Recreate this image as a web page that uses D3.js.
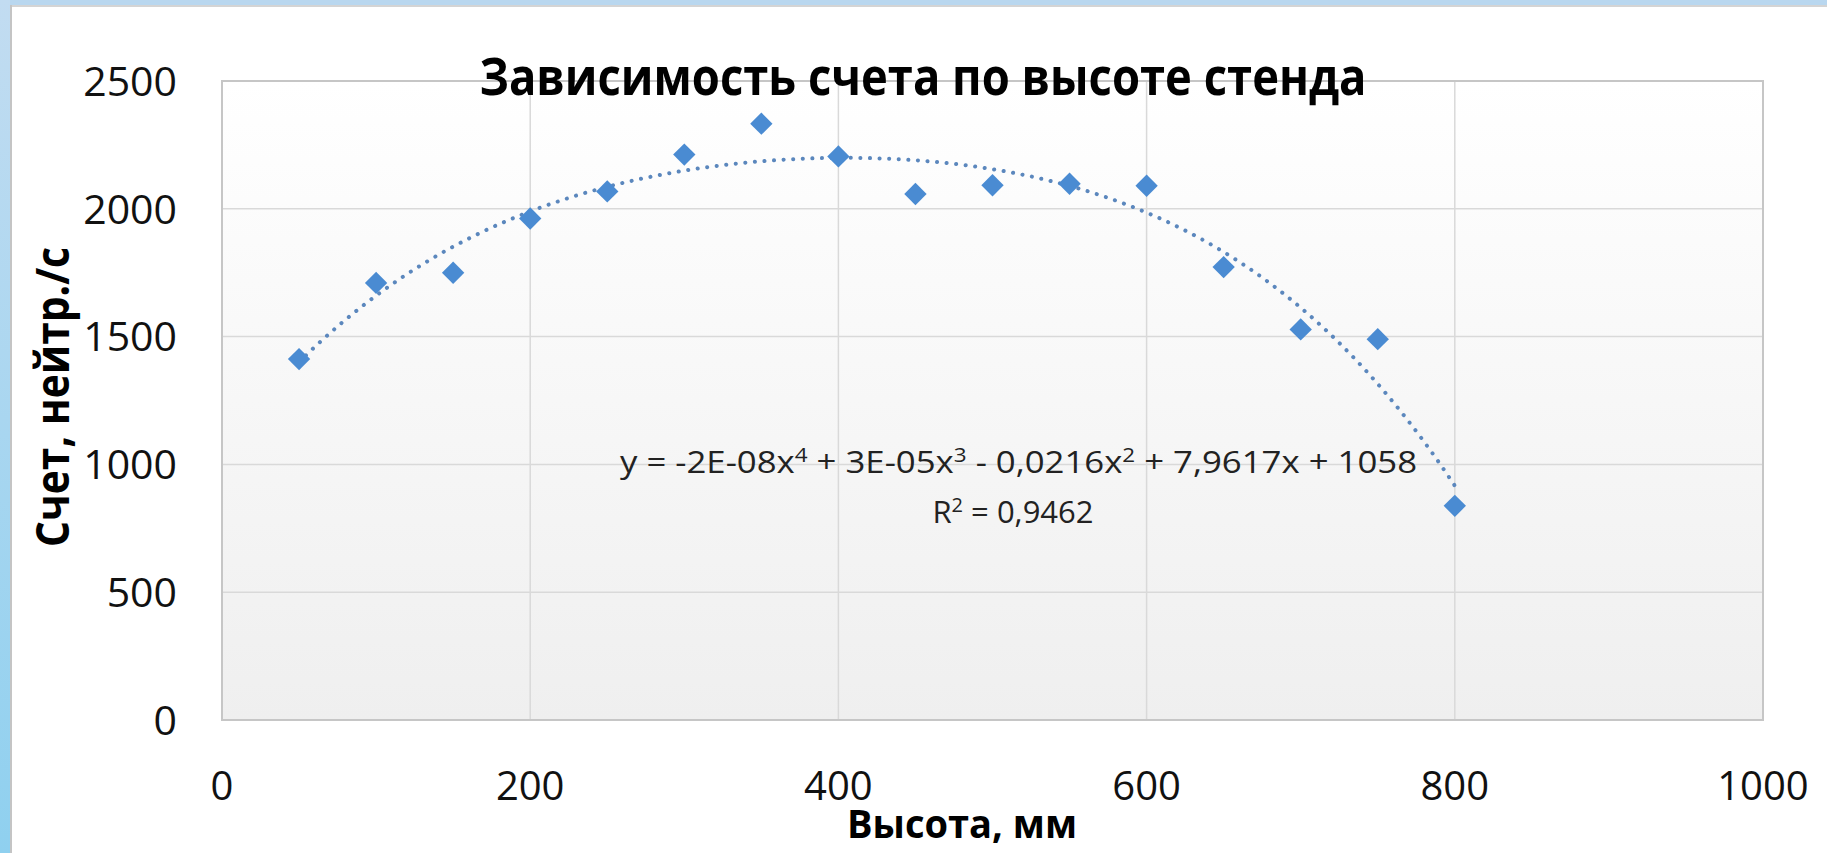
<!DOCTYPE html>
<html>
<head>
<meta charset="utf-8">
<script src="https://cdn.jsdelivr.net/npm/d3@7"></script>
<style>
  html, body { margin: 0; padding: 0; background: #fff; }
  svg { display: block; font-family: "Open Sans", "Noto Sans", sans-serif; }
</style>
</head>
<body>
<div id="chart"></div>
<script>
// ======= DATA =======
const heights = [50, 100, 150, 200, 250, 300, 350, 400, 450, 500, 550, 600, 650, 700, 750, 800];
const counts = [1412, 1710, 1750, 1962, 2068, 2212, 2333, 2205, 2058, 2092, 2098, 2090, 1772, 1528, 1490, 838];

const xTicks = [0, 200, 400, 600, 800, 1000];
const yTicks = [0, 500, 1000, 1500, 2000, 2500];

const titleText = "Зависимость счета по высоте стенда";
const xLabel = "Высота, мм";
const yLabel = "Счет, нейтр./с";
const rSquared = "0,9462";

// ======= SETUP =======
const width = 1827, height = 853;
const plot = { left: 222, right: 1763, top: 81, bottom: 720 };

const svg = d3.select("#chart").append("svg")
  .attr("width", width)
  .attr("height", height);

const defs = svg.append("defs");
const bg = defs.append("linearGradient").attr("id", "plotbg")
  .attr("x1", 0).attr("y1", 0).attr("x2", 0).attr("y2", 1);
bg.append("stop").attr("offset", "0%").attr("stop-color", "#ffffff");
bg.append("stop").attr("offset", "100%").attr("stop-color", "#efefef");

const side = defs.append("linearGradient").attr("id", "sidebg")
  .attr("x1", 0).attr("y1", 0).attr("x2", 0).attr("y2", 1);
side.append("stop").attr("offset", "0%").attr("stop-color", "#c2dcf1");
side.append("stop").attr("offset", "100%").attr("stop-color", "#8fd0ef");

// frame of the slide
svg.append("rect").attr("x", 0).attr("y", 0).attr("width", width).attr("height", 5).attr("fill", "#b9d7ef");
svg.append("rect").attr("x", 0).attr("y", 0).attr("width", 10).attr("height", height).attr("fill", "url(#sidebg)");
svg.append("rect").attr("x", 10).attr("y", 5).attr("width", width - 10).attr("height", 2).attr("fill", "#d4d4d4");
svg.append("rect").attr("x", 10).attr("y", 5).attr("width", 2).attr("height", height - 5).attr("fill", "#c4c4c4");

const x = d3.scaleLinear().domain([0, 1000]).range([plot.left, plot.right]);
const y = d3.scaleLinear().domain([0, 2500]).range([plot.bottom, plot.top]);

// plot area
svg.append("rect")
  .attr("x", plot.left).attr("y", plot.top)
  .attr("width", plot.right - plot.left).attr("height", plot.bottom - plot.top)
  .attr("fill", "url(#plotbg)");

// gridlines
svg.append("g").selectAll("line.v")
  .data(xTicks.slice(1, -1)).join("line")
  .attr("x1", d => x(d)).attr("x2", d => x(d))
  .attr("y1", plot.top).attr("y2", plot.bottom)
  .attr("stroke", "#d9d9d9").attr("stroke-width", 1.5);

svg.append("g").selectAll("line.h")
  .data(yTicks.slice(1, -1)).join("line")
  .attr("x1", plot.left).attr("x2", plot.right)
  .attr("y1", d => y(d)).attr("y2", d => y(d))
  .attr("stroke", "#d9d9d9").attr("stroke-width", 1.5);

svg.append("rect")
  .attr("x", plot.left).attr("y", plot.top)
  .attr("width", plot.right - plot.left).attr("height", plot.bottom - plot.top)
  .attr("fill", "none").attr("stroke", "#c6c6c6").attr("stroke-width", 2);

// tick labels
svg.append("g").selectAll("text")
  .data(xTicks).join("text")
  .attr("x", d => x(d)).attr("y", 800)
  .attr("text-anchor", "middle")
  .attr("font-size", 40).attr("fill", "#111")
  .text(d => d);

svg.append("g").selectAll("text")
  .data(yTicks).join("text")
  .attr("x", 177).attr("y", d => y(d))
  .attr("dy", "0.36em")
  .attr("text-anchor", "end")
  .attr("font-size", 41).attr("fill", "#111")
  .text(d => d);

// ======= TRENDLINE (poly, order 4, least squares) =======
function polyfit(xs, ys, deg) {
  const n = deg + 1;
  const A = d3.range(n).map(() => new Array(n + 1).fill(0));
  xs.forEach((xv, k) => {
    for (let i = 0; i < n; i++) {
      for (let j = 0; j < n; j++) A[i][j] += Math.pow(xv, i + j);
      A[i][n] += ys[k] * Math.pow(xv, i);
    }
  });
  for (let c = 0; c < n; c++) {
    let p = c;
    for (let r = c + 1; r < n; r++) if (Math.abs(A[r][c]) > Math.abs(A[p][c])) p = r;
    [A[c], A[p]] = [A[p], A[c]];
    for (let r = 0; r < n; r++) {
      if (r === c) continue;
      const f = A[r][c] / A[c][c];
      for (let k = c; k <= n; k++) A[r][k] -= f * A[c][k];
    }
  }
  return A.map((row, i) => row[n] / row[i]);
}

const coef = polyfit(heights.map(h => h / 1000), counts, 4);
const trendAt = h => coef.reduce((s, c, i) => s + c * Math.pow(h / 1000, i), 0);
const trend = d3.range(heights[0], heights[heights.length - 1] + 0.1, 2).map(h => [h, trendAt(h)]);

svg.append("path")
  .datum(trend)
  .attr("d", d3.line().x(d => x(d[0])).y(d => y(d[1])))
  .attr("fill", "none")
  .attr("stroke", "#5b87bd")
  .attr("stroke-width", 4)
  .attr("stroke-linecap", "round")
  .attr("stroke-dasharray", "0.1 9.5");

// markers
svg.append("g").selectAll("path")
  .data(heights.map((h, i) => ({ h, c: counts[i] }))).join("path")
  .attr("d", d3.symbol(d3.symbolSquare, 250))
  .attr("transform", d => `translate(${x(d.h)},${y(d.c)}) rotate(45)`)
  .attr("fill", "#4a8bd2");

// ======= TEXTS =======
svg.append("text")
  .attr("x", 923).attr("y", 95)
  .attr("text-anchor", "middle")
  .attr("font-size", 52).attr("font-weight", "bold").attr("fill", "#000")
  .attr("textLength", 887).attr("lengthAdjust", "spacingAndGlyphs")
  .text(titleText);

svg.append("text")
  .attr("x", 962).attr("y", 838)
  .attr("text-anchor", "middle")
  .attr("font-size", 40).attr("font-weight", "bold").attr("fill", "#000")
  .attr("textLength", 230).attr("lengthAdjust", "spacingAndGlyphs")
  .text(xLabel);

svg.append("text")
  .attr("transform", "translate(69,397) rotate(-90)")
  .attr("text-anchor", "middle")
  .attr("font-size", 46).attr("font-weight", "bold").attr("fill", "#000")
  .attr("textLength", 300).attr("lengthAdjust", "spacingAndGlyphs")
  .text(yLabel);

// equation label
const eqParts = [
  ["y = -2E-08x", false], ["4", true], [" + 3E-05x", false], ["3", true],
  [" - 0,0216x", false], ["2", true], [" + 7,9617x + 1058", false]
];
const eq = svg.append("text")
  .attr("x", 620).attr("y", 473)
  .attr("font-size", 31).attr("fill", "#222")
  .attr("textLength", 797).attr("lengthAdjust", "spacingAndGlyphs");
let prevSup = false;
eqParts.forEach(([t, sup]) => {
  eq.append("tspan")
    .attr("font-size", sup ? 20 : 31)
    .attr("dy", sup ? -11 : (prevSup ? 11 : 0))
    .text(t);
  prevSup = sup;
});

const r2 = svg.append("text")
  .attr("x", 1013).attr("y", 523)
  .attr("text-anchor", "middle")
  .attr("font-size", 31).attr("fill", "#222");
r2.append("tspan").text("R");
r2.append("tspan").attr("font-size", 20).attr("dy", -11).text("2");
r2.append("tspan").attr("dy", 11).text(" = " + rSquared);
</script>
</body>
</html>
